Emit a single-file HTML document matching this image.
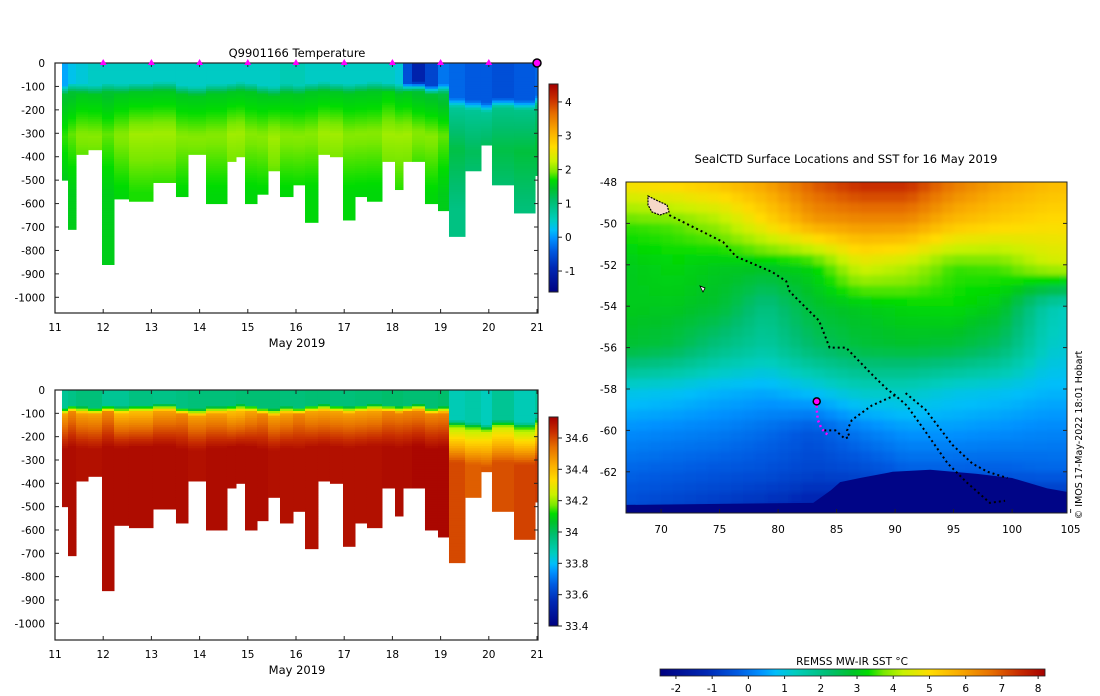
<!DOCTYPE html>
<html><head><meta charset="utf-8"><style>
body{margin:0;background:#fff;}
svg{display:block;font-family:"DejaVu Sans","Liberation Sans",sans-serif;}
</style></head><body>
<svg id="s" width="1100" height="696" viewBox="0 0 1100 696" xmlns="http://www.w3.org/2000/svg">
<defs><filter id="blur" x="0" y="0" width="1" height="1"><feGaussianBlur stdDeviation="2.5"/></filter>
<clipPath id="mapclip"><rect x="626" y="182" width="441" height="331"/></clipPath></defs>
<g id="tchart"></g>
<g id="schart"></g>
<g id="map"></g>
<text x="297" y="57" font-size="11.5" text-anchor="middle">Q9901166  Temperature</text>
<text x="297" y="347" font-size="11.5" text-anchor="middle">May 2019</text>
<text x="297" y="674" font-size="11.5" text-anchor="middle">May 2019</text>
<text x="846" y="163" font-size="11.5" text-anchor="middle">SealCTD Surface Locations and SST for 16 May 2019</text>
<text x="852" y="665" font-size="10.5" text-anchor="middle">REMSS MW-IR SST °C</text>
<text transform="translate(1082,435) rotate(-90)" font-size="9.5" text-anchor="middle">© IMOS 17-May-2022 18:01 Hobart</text>
</svg>
<script>
const castEdges=[11.145,11.27,11.436,11.685,11.975,12.224,12.535,13.033,13.51,13.759,14.133,14.568,14.755,14.942,15.191,15.419,15.668,15.938,16.187,16.456,16.705,16.975,17.224,17.473,17.784,18.054,18.22,18.407,18.676,18.946,19.174,19.506,19.838,20.066,20.523,20.959,21.02];
const castDepth=[500,703,381,364,853,574,587,501,561,386,596,416,399,596,557,459,566,514,673,381,394,664,561,583,420,540,416,412,591,621,733,459,343,514,639,480];
const mld=[95,85,90,95,85,90,85,80,95,100,90,85,80,85,95,100,90,95,85,80,85,90,85,80,85,90,85,80,95,90,150,160,170,150,160,140];
const tSurf=[0.1,0.3,0.4,0.5,0.5,0.5,0.5,0.5,0.5,0.5,0.5,0.5,0.5,0.5,0.5,0.5,0.6,0.6,0.5,0.5,0.5,0.5,0.5,0.5,0.5,0.4,-0.5,-1.0,-0.6,-0.2,-0.3,-0.4,-0.4,-0.5,-0.4,-0.3];
const tMid=[1.4,1.4,1.5,1.5,1.4,1.5,1.5,1.5,1.5,1.5,1.5,1.5,1.5,1.5,1.5,1.5,1.5,1.5,1.5,1.5,1.5,1.5,1.5,1.5,1.6,1.5,1.5,1.4,1.4,1.3,0.8,0.8,0.8,0.9,0.9,1.0];
const tDeep=[1.8,1.9,2.0,2.0,1.9,2.0,2.1,2.1,2.0,2.0,2.0,2.1,2.1,2.0,2.0,2.1,2.0,2.0,2.0,2.1,2.1,2.0,2.0,2.0,2.1,2.1,2.1,2.0,2.0,1.9,1.3,1.2,1.3,1.3,1.35,1.4];
const sSurf=[33.93,33.95,33.97,33.97,33.93,33.93,33.96,33.95,33.96,33.97,33.97,33.97,33.98,33.98,33.98,33.98,33.97,33.97,33.98,33.98,33.97,33.97,33.98,33.98,33.99,33.99,33.98,33.98,33.98,33.99,33.88,33.9,33.87,33.93,33.88,33.92];
const sMid=[34.45,34.5,34.45,34.45,34.5,34.4,34.4,34.45,34.5,34.45,34.45,34.4,34.4,34.45,34.5,34.45,34.45,34.5,34.45,34.45,34.45,34.45,34.45,34.45,34.5,34.5,34.5,34.5,34.5,34.5,34.22,34.22,34.25,34.25,34.2,34.25];
const sDeep=[34.71,34.71,34.70,34.70,34.71,34.71,34.71,34.71,34.71,34.70,34.71,34.71,34.71,34.71,34.71,34.70,34.70,34.70,34.70,34.70,34.70,34.70,34.70,34.70,34.71,34.71,34.71,34.72,34.72,34.72,34.6,34.57,34.58,34.59,34.61,34.62];
const tempTicks=[0,-100,-200,-300,-400,-500,-600,-700,-800,-900,-1000];
const dayTicks=[11,12,13,14,15,16,17,18,19,20,21];
const markerDays=[12,13,14,15,16,17,18,19,20];
const tCbTicks=[4,3,2,1,0,-1];
const sCbTicks=[34.6,34.4,34.2,34,33.8,33.6,33.4];
const gridLats=[-48,-50,-52,-54,-56,-58,-60,-62,-64];
const gridLons=[67,71,75,79,83,87,91,95,99,103,107];
const sst=[
[5,5.2,5.5,6,7,7.6,7.6,6.6,6,5.6,5.5],
[3.5,3.6,4,5,6,6.2,6.2,5.5,5.2,5,5],
[3,3.2,3,3,3.2,4.5,4.2,3.5,3.6,4.3,4.5],
[3,3,2.8,2,2.8,3,3.2,3.3,3,1.5,1.0],
[2.8,2.6,2,1.6,2.3,2.7,2.8,2.7,2.3,1.2,1.0],
[1.0,0.9,0.7,0.6,0.9,1.3,1.3,1.0,0.9,0.7,0.7],
[0.3,0.2,0.1,-0.1,-0.4,0.1,0.4,0.4,0.3,0.2,0.2],
[-0.2,-0.3,-0.4,-0.5,-0.7,-0.6,-0.3,-0.3,-0.3,-0.2,-0.2],
[-0.6,-0.8,-1,-1.2,-1.5,-1.5,-1.5,-1.5,-1.5,-1.5,-1.5]];
const landLon=[67,83,84.5,85.3,87,89.8,93,97,100,103,105,105,67];
const landLat=[-63.6,-63.5,-62.9,-62.5,-62.3,-62.0,-61.9,-62.1,-62.3,-62.8,-63.0,-64.5,-64.5];
const trackLon=[70.7,75.3,76.4,79.5,80.7,81,82.6,83.5,84.4,85.8,88.2,89.3,90,91,92.4,94.5,96.1,98.1,99.4];
const trackLat=[-49.6,-50.9,-51.6,-52.35,-52.8,-53.3,-54.2,-54.7,-56,-56,-57.4,-58,-58.3,-58.8,-59.9,-61.6,-62.5,-63.5,-63.4];
const track2Lon=[90.9,92.6,94.9,96.6,97.9,99.6];
const track2Lat=[-58.2,-59.0,-60.7,-61.6,-62.0,-62.3];
const track3Lon=[90,88,86.3,85.9,86.1,85.7,84.9,83.8];
const track3Lat=[-58.3,-58.8,-59.5,-60.0,-60.3,-60.4,-60.0,-60.0];
const magLon=[84.2,83.7,83.4,83.3,83.3];
const magLat=[-60.2,-59.9,-59.5,-59.0,-58.6];
const sstTicks=[-2,-1,0,1,2,3,4,5,6,7,8];
const mapLatTicks=[-48,-50,-52,-54,-56,-58,-60,-62];
const mapLonTicks=[70,75,80,85,90,95,100,105];

const NS='http://www.w3.org/2000/svg';
function mk(tag,attrs,parent){const e=document.createElementNS(NS,tag);for(const k in attrs)e.setAttribute(k,attrs[k]);parent.appendChild(e);return e;}
const stops=[[0,[0,0,128]],[0.12,[0,40,180]],[0.2,[0,90,225]],[0.26,[0,145,255]],[0.3,[0,190,250]],[0.35,[0,205,190]],[0.44,[0,190,110]],[0.5,[0,195,40]],[0.54,[0,220,0]],[0.58,[120,232,0]],[0.63,[200,242,0]],[0.7,[255,220,0]],[0.77,[250,175,0]],[0.86,[230,110,0]],[0.93,[200,45,0]],[1,[165,0,0]]];
function cmap(f){f=Math.max(0,Math.min(1,f));for(let i=1;i<stops.length;i++){if(f<=stops[i][0]){const a=stops[i-1],b=stops[i];const t=(f-a[0])/(b[0]-a[0]);const c=a[1].map((v,j)=>Math.round(v+(b[1][j]-v)*t));return 'rgb('+c.join(',')+')';}}return 'rgb(165,0,0)';}
function lerp(a,b,t){return a+(b-a)*Math.max(0,Math.min(1,t));}

function section(g,y0,ys,vmin,vmax,prof,cbTop,cbBot,cbTicks,isTemp){
  const xd=d=>55+(d-11)*48.2, yd=d=>y0+d*ys;
  for(let i=0;i<castDepth.length;i++){
    const x1=xd(castEdges[i]),x2=xd(castEdges[i+1]);
    for(let d=0;d<castDepth[i];d+=10){
      const v=prof(i,d+5);
      const r=mk('rect',{x:x1,y:yd(d),width:x2-x1+0.5,height:10*ys+0.5,fill:cmap((v-vmin)/(vmax-vmin))},g);
      
      
    }
  }
  const fr=mk('rect',{x:55,y:y0,width:483,height:250,fill:'none',stroke:'#222','stroke-width':1.2},g);
  
  tempTicks.forEach(t=>{const y=yd(-t);
    mk('line',{x1:55,x2:59,y1:y,y2:y,stroke:'#222'},g);mk('line',{x1:534,x2:538,y1:y,y2:y,stroke:'#222'},g);
    const tx=mk('text',{x:45,y:y+4,'font-size':10.5,'text-anchor':'end'},g);tx.textContent=t;
    });
  dayTicks.forEach(d=>{const x=xd(d);
    mk('line',{x1:x,x2:x,y1:y0,y2:y0+4,stroke:'#222'},g);mk('line',{x1:x,x2:x,y1:y0+246,y2:y0+250,stroke:'#222'},g);
    const tx=mk('text',{x:x,y:y0+268,'font-size':10.5,'text-anchor':'middle'},g);tx.textContent=d;
    });
  const cy=v=>cbBot-(v-vmin)/(vmax-vmin)*(cbBot-cbTop);
  for(let y=cbTop;y<cbBot;y+=1){const v=vmin+(cbBot-y)/(cbBot-cbTop)*(vmax-vmin);mk('rect',{x:549,y:y,width:9,height:1.2,fill:cmap((v-vmin)/(vmax-vmin))},g);}
  const cb=mk('rect',{x:549,y:cbTop,width:9,height:cbBot-cbTop,fill:'none',stroke:'#222'},g);
  
  cbTicks.forEach(t=>{const y=cy(t);mk('line',{x1:558,x2:562,y1:y,y2:y,stroke:'#222'},g);
    const tx=mk('text',{x:565,y:y+4,'font-size':10.5},g);tx.textContent=t;
    });
}
const T=document.getElementById('tchart');
section(T,63,0.2343,-1.62,4.53,(i,d)=>{const m=mld[i];if(d<m)return tSurf[i];if(d<m+40)return lerp(tSurf[i],tMid[i],(d-m)/40);if(d<m+220)return lerp(tMid[i],tDeep[i],(d-m-40)/180);return lerp(tDeep[i],tDeep[i]-0.35,(d-m-220)/250);},84,292,tCbTicks,true);
markerDays.forEach(d=>{const x=55+(d-11)*48.2;const p=mk('path',{d:`M${x-3.5},65 L${x+3.5},65 L${x},59 Z`,fill:'#ff00ff'},T);
  });
const lastM=mk('circle',{cx:537,cy:63,r:4,fill:'#ff00ff',stroke:'#000','stroke-width':1.5},T);

const S=document.getElementById('schart');
section(S,390,0.2333,33.4,34.734,(i,d)=>{const m=mld[i]-10;if(d<m-10)return sSurf[i];if(d<m+20)return lerp(sSurf[i],sMid[i],(d-m+10)/30);return lerp(sMid[i],sDeep[i],(d-m-20)/150);},417,626,sCbTicks,false);

const M=document.getElementById('map');
const mx=l=>626+(l-67)*11.7, my=l=>182+(-48-l)*20.7;
const field=mk('g',{'clip-path':'url(#mapclip)'},M);
const fb=mk('g',{filter:'url(#blur)'},field);
function sstAt(lon,lat){let fi=(-48-lat)/2,fj=(lon-67)/4;fi=Math.max(0,Math.min(gridLats.length-1.001,fi));fj=Math.max(0,Math.min(gridLons.length-1.001,fj));
  const i=Math.floor(fi),j=Math.floor(fj),a=fi-i,b=fj-j;return sst[i][j]*(1-a)*(1-b)+sst[i+1][j]*a*(1-b)+sst[i][j+1]*(1-a)*b+sst[i+1][j+1]*a*b;}
const smin=-2.44,smax=8.19;
for(let lat=-47.5;lat>-64.6;lat-=0.5){for(let lon=66;lon<106;lon+=1){
  const c=mk('rect',{x:mx(lon),y:my(lat),width:12.2,height:10.9,fill:cmap((sstAt(lon+0.5,lat-0.25)-smin)/(smax-smin))},fb);
  }}
const land=mk('polygon',{points:landLon.map((l,i)=>mx(l)+','+my(landLat[i])).join(' '),fill:'rgb(0,5,135)'},field);

function dots(lons,lats,col,name,w){const p=mk('polyline',{points:lons.map((l,i)=>mx(l)+','+my(lats[i])).join(' '),fill:'none',stroke:col,'stroke-width':w,'stroke-dasharray':'2 3'},field);
  }
dots(trackLon,trackLat,'#000','seal-track',2);
dots(track2Lon,track2Lat,'#000','seal-track-branch',2);
dots(track3Lon,track3Lat,'#000','seal-track-west',2);
dots(magLon,magLat,'#ff00ff','latest-track',2.5);
const blob=mk('path',{d:`M648,196 l10,5 l9,4 l2,7 l-9,3 l-8,-3 l-4,-7 z`,fill:'#f6d8c8',stroke:'#000','stroke-width':1.2,'stroke-dasharray':'2 1'},field);

const sm=mk('path',{d:'M700,286 l5,2 l-2,4 z',fill:'#fff',stroke:'#000','stroke-width':0.8},field);

const cur=mk('circle',{cx:mx(83.3),cy:my(-58.6),r:3.5,fill:'#ff00ff',stroke:'#000','stroke-width':1.5},M);

const mf=mk('rect',{x:626,y:182,width:441,height:331,fill:'none',stroke:'#222'},M);

mapLatTicks.forEach(t=>{const y=my(t);mk('line',{x1:626,x2:630,y1:y,y2:y,stroke:'#222'},M);mk('line',{x1:1063,x2:1067,y1:y,y2:y,stroke:'#222'},M);
  const tx=mk('text',{x:617,y:y+4,'font-size':10.5,'text-anchor':'end'},M);tx.textContent=t;
  });
mapLonTicks.forEach(t=>{const x=mx(t);mk('line',{x1:x,x2:x,y1:509,y2:513,stroke:'#222'},M);
  const tx=mk('text',{x:x,y:533,'font-size':10.5,'text-anchor':'middle'},M);tx.textContent=t;
  });
const sx=v=>660+(v-smin)/(smax-smin)*385;
for(let x=660;x<1045;x++){const v=smin+(x-660)/385*(smax-smin);mk('rect',{x:x,y:669,width:1.2,height:7,fill:cmap((v-smin)/(smax-smin))},M);}
const scb=mk('rect',{x:660,y:669,width:385,height:7,fill:'none',stroke:'#222','stroke-width':0.8},M);

sstTicks.forEach(t=>{const x=sx(t);mk('line',{x1:x,x2:x,y1:676,y2:679,stroke:'#222'},M);
  const tx=mk('text',{x:x,y:692,'font-size':10.5,'text-anchor':'middle'},M);tx.textContent=t;
  });
</script>
</body></html>
